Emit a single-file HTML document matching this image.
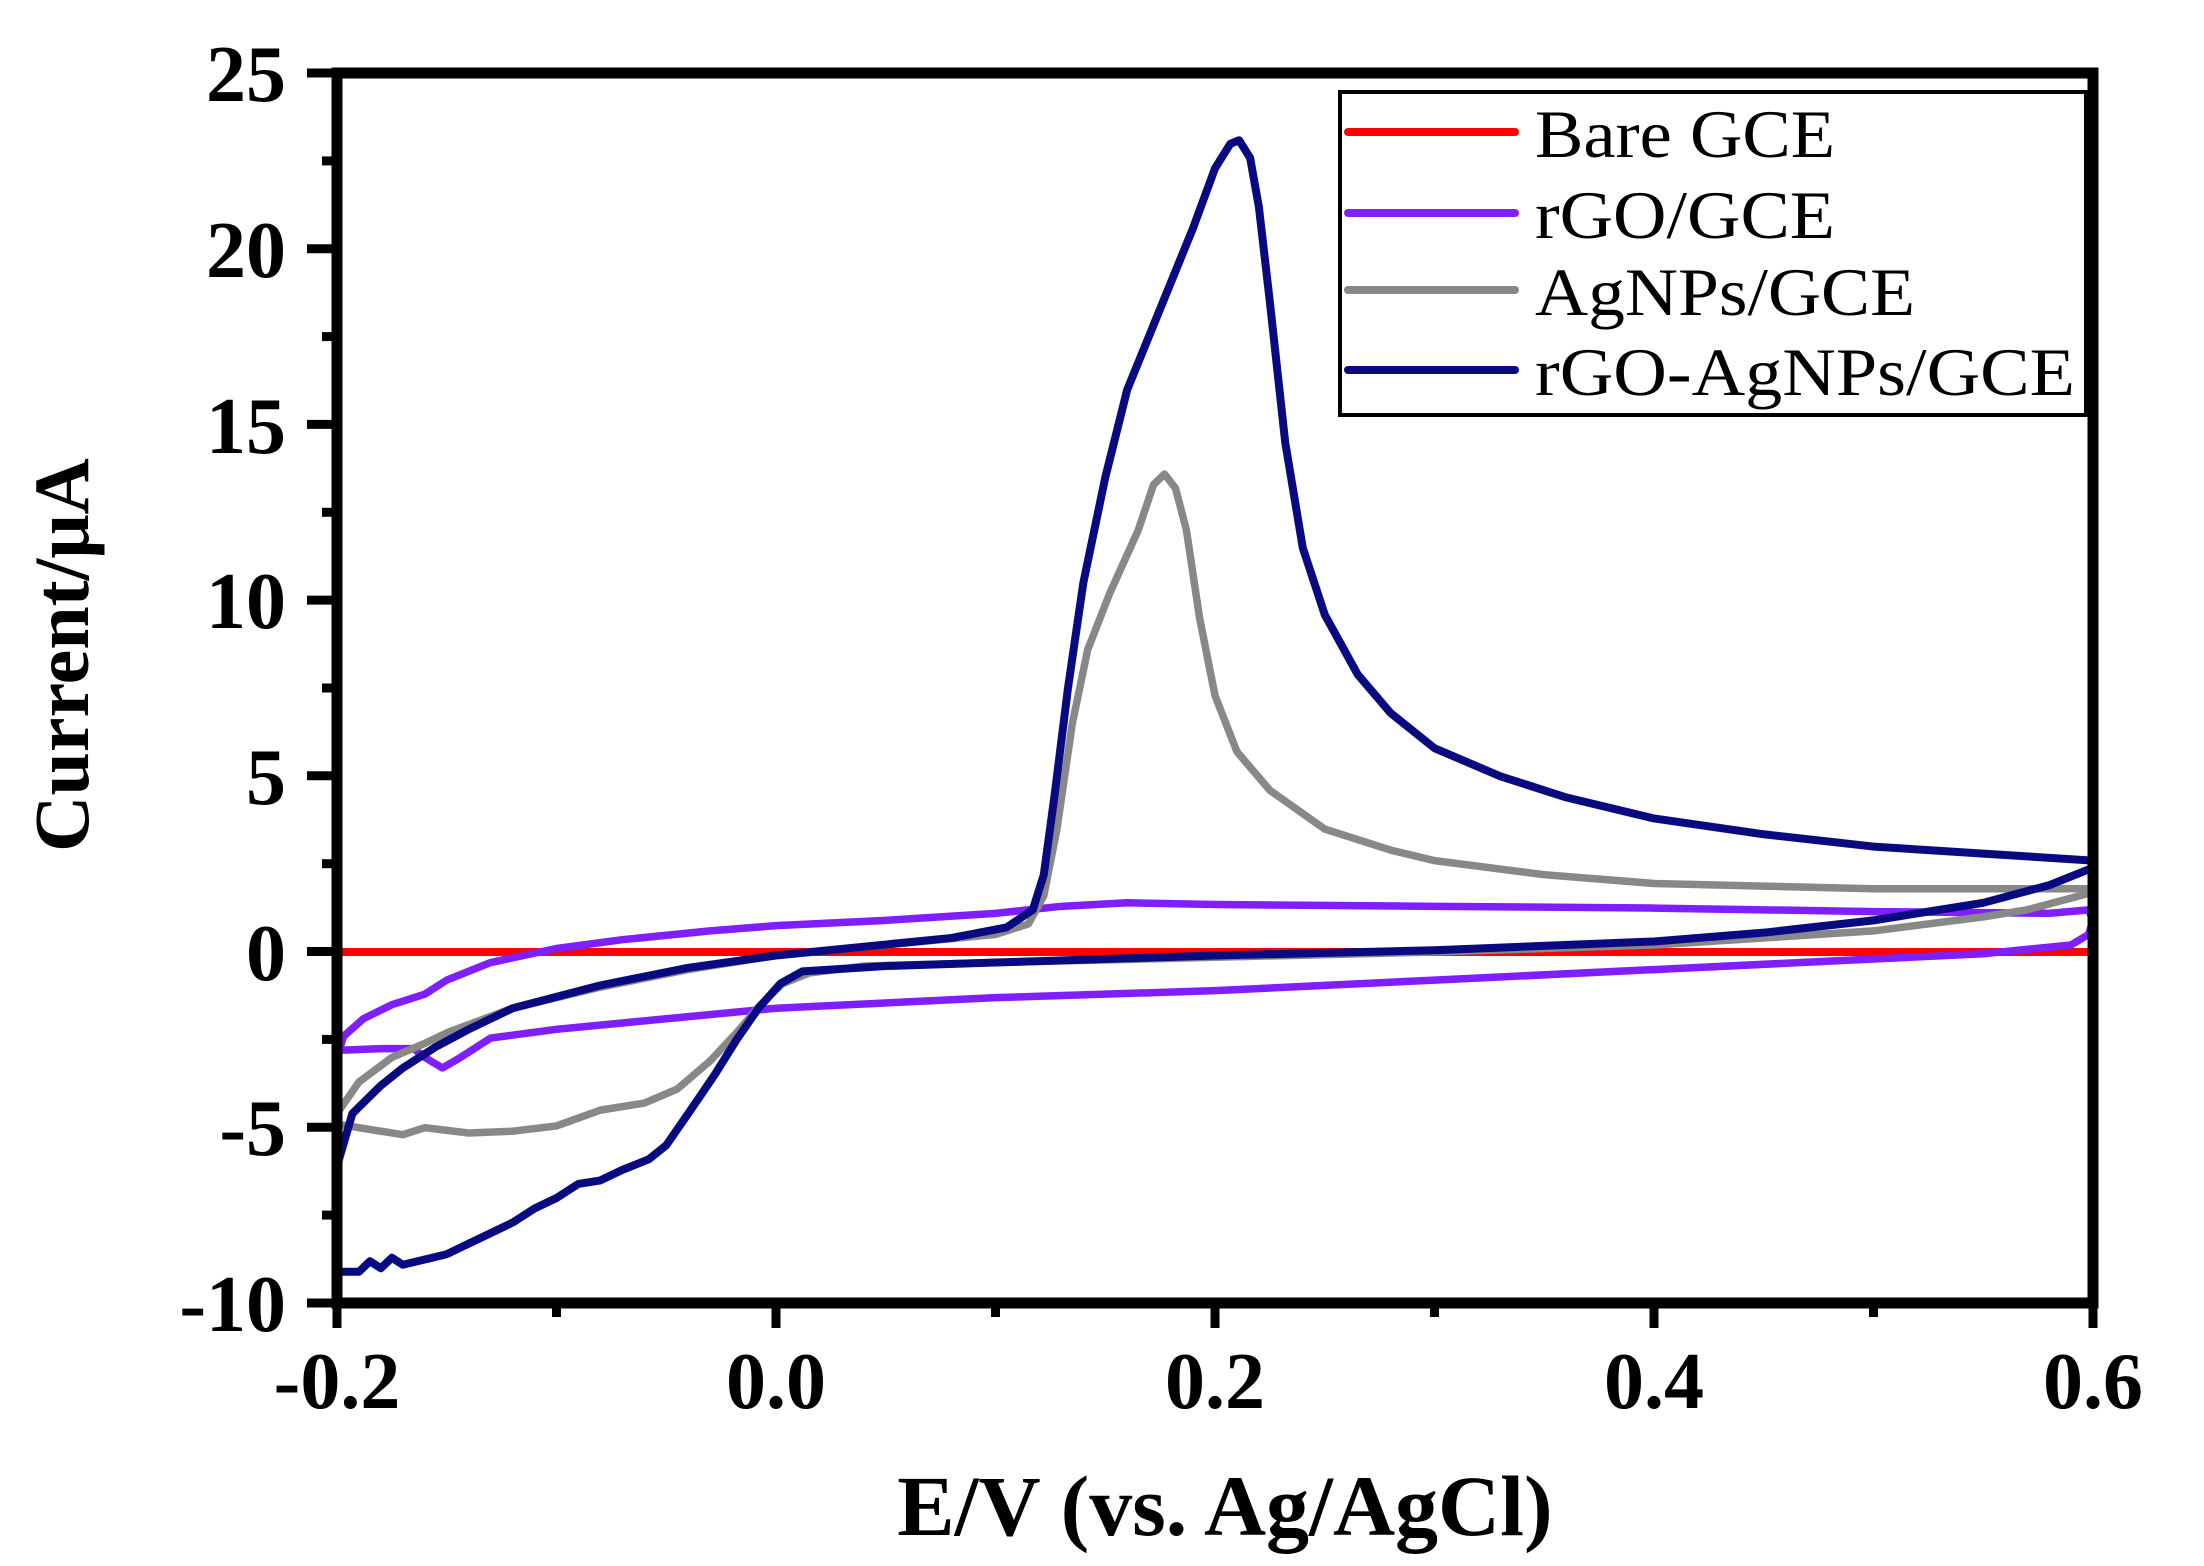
<!DOCTYPE html>
<html><head><meta charset="utf-8"><style>
html,body{margin:0;padding:0;background:#fff;}
svg{display:block;}
text{font-family:"Liberation Serif",serif;}
</style></head><body>
<svg width="2204" height="1566" viewBox="0 0 2204 1566" xmlns="http://www.w3.org/2000/svg">
<rect width="2204" height="1566" fill="#fff"/>
<g transform="translate(775.987,952) scale(2195,-35.14)" fill="none" stroke-linejoin="round" stroke-linecap="round">
  <path vector-effect="non-scaling-stroke" stroke="#ff0000" stroke-width="8" d="M-0.2,0 L0.6,0"/>
  <path vector-effect="non-scaling-stroke" stroke="#7f1fff" stroke-width="7.5" d="M-0.2,-3.0 L-0.197,-2.4 L-0.188,-1.9 L-0.175,-1.5 L-0.16,-1.2 L-0.15,-0.8 L-0.13,-0.3 L-0.1,0.1 L-0.07,0.35 L-0.03,0.6 L0,0.75 L0.05,0.9 L0.1,1.1 L0.13,1.3 L0.16,1.4 L0.2,1.35 L0.3,1.3 L0.4,1.25 L0.5,1.15 L0.58,1.1 L0.598,1.2 L0.6,0.9 L0.598,0.5 L0.59,0.2 L0.55,-0.05 L0.5,-0.2 L0.4,-0.5 L0.3,-0.8 L0.2,-1.1 L0.1,-1.3 L0,-1.6 L-0.05,-1.9 L-0.1,-2.2 L-0.13,-2.45 L-0.145,-3.05 L-0.152,-3.3 L-0.16,-3.0 L-0.165,-2.75 L-0.18,-2.75 L-0.2,-2.8 L-0.2,-3.0"/>
  <path vector-effect="non-scaling-stroke" stroke="#888888" stroke-width="7.5" d="M-0.2,-4.6 L-0.19,-3.7 L-0.175,-3.0 L-0.16,-2.6 L-0.15,-2.3 L-0.12,-1.6 L-0.08,-1.0 L-0.04,-0.5 L0,-0.1 L0.05,0.2 L0.1,0.5 L0.115,0.8 L0.122,1.6 L0.128,3.5 L0.135,6.5 L0.142,8.6 L0.152,10.2 L0.165,12 L0.172,13.3 L0.177,13.6 L0.182,13.2 L0.187,12 L0.193,9.5 L0.2,7.3 L0.21,5.7 L0.225,4.6 L0.25,3.5 L0.28,2.9 L0.3,2.6 L0.35,2.2 L0.4,1.95 L0.5,1.8 L0.6,1.8 L0.6,1.7 L0.57,1.2 L0.55,1.0 L0.5,0.6 L0.4,0.2 L0.3,0.0 L0.2,-0.15 L0.1,-0.3 L0.04,-0.4 L0.015,-0.6 L0.003,-0.9 L-0.007,-1.5 L-0.018,-2.3 L-0.03,-3.1 L-0.045,-3.9 L-0.06,-4.3 L-0.08,-4.5 L-0.1,-4.95 L-0.12,-5.1 L-0.14,-5.15 L-0.16,-5.0 L-0.17,-5.2 L-0.19,-5.0 L-0.2,-4.9 L-0.2,-4.6"/>
  <path vector-effect="non-scaling-stroke" stroke="#0a0a80" stroke-width="8" d="M-0.2,-6.1 L-0.193,-4.6 L-0.18,-3.8 L-0.17,-3.3 L-0.155,-2.7 L-0.14,-2.2 L-0.12,-1.6 L-0.08,-0.95 L-0.04,-0.45 L0,-0.1 L0.04,0.15 L0.08,0.4 L0.105,0.7 L0.117,1.2 L0.122,2.2 L0.127,4.5 L0.133,7.5 L0.14,10.5 L0.15,13.5 L0.16,16 L0.175,18.3 L0.19,20.6 L0.2,22.3 L0.207,23 L0.211,23.1 L0.216,22.6 L0.22,21.2 L0.225,18.5 L0.232,14.5 L0.24,11.5 L0.25,9.6 L0.265,7.9 L0.28,6.8 L0.3,5.8 L0.33,5.0 L0.36,4.4 L0.4,3.8 L0.45,3.35 L0.5,3.0 L0.55,2.8 L0.6,2.6 L0.6,2.4 L0.58,1.9 L0.55,1.4 L0.5,0.9 L0.45,0.55 L0.4,0.3 L0.3,0.05 L0.2,-0.1 L0.1,-0.3 L0.05,-0.4 L0.012,-0.55 L0.002,-0.9 L-0.008,-1.6 L-0.018,-2.5 L-0.028,-3.5 L-0.04,-4.6 L-0.05,-5.5 L-0.058,-5.9 L-0.07,-6.2 L-0.08,-6.5 L-0.09,-6.6 L-0.1,-7.0 L-0.11,-7.3 L-0.12,-7.7 L-0.13,-8.0 L-0.14,-8.3 L-0.15,-8.6 L-0.16,-8.75 L-0.17,-8.9 L-0.175,-8.7 L-0.18,-9.0 L-0.185,-8.8 L-0.19,-9.1 L-0.2,-9.1 L-0.2,-6.1"/>
</g>
<rect x="337" y="73" width="1756" height="1230" fill="none" stroke="#000" stroke-width="11"/>
<g stroke="#000" stroke-width="9">
  <line x1="307" y1="73" x2="337" y2="73"/>
  <line x1="307" y1="248.7" x2="337" y2="248.7"/>
  <line x1="307" y1="424.4" x2="337" y2="424.4"/>
  <line x1="307" y1="600.1" x2="337" y2="600.1"/>
  <line x1="307" y1="775.8" x2="337" y2="775.8"/>
  <line x1="307" y1="951.5" x2="337" y2="951.5"/>
  <line x1="307" y1="1127.2" x2="337" y2="1127.2"/>
  <line x1="307" y1="1303" x2="337" y2="1303"/>
  <line x1="322" y1="160.9" x2="337" y2="160.9"/>
  <line x1="322" y1="336.6" x2="337" y2="336.6"/>
  <line x1="322" y1="512.3" x2="337" y2="512.3"/>
  <line x1="322" y1="688" x2="337" y2="688"/>
  <line x1="322" y1="863.7" x2="337" y2="863.7"/>
  <line x1="322" y1="1039.4" x2="337" y2="1039.4"/>
  <line x1="322" y1="1215.1" x2="337" y2="1215.1"/>
  <line x1="337" y1="1303" x2="337" y2="1328"/>
  <line x1="776" y1="1303" x2="776" y2="1328"/>
  <line x1="1215" y1="1303" x2="1215" y2="1328"/>
  <line x1="1654" y1="1303" x2="1654" y2="1328"/>
  <line x1="2093" y1="1303" x2="2093" y2="1328"/>
  <line x1="556.5" y1="1303" x2="556.5" y2="1317"/>
  <line x1="995.5" y1="1303" x2="995.5" y2="1317"/>
  <line x1="1434.5" y1="1303" x2="1434.5" y2="1317"/>
  <line x1="1873.5" y1="1303" x2="1873.5" y2="1317"/>
</g>
<g font-size="80" font-weight="bold" text-anchor="end" fill="#000">
  <text x="286" y="101">25</text>
  <text x="286" y="277">20</text>
  <text x="286" y="453">15</text>
  <text x="286" y="628">10</text>
  <text x="286" y="804">5</text>
  <text x="286" y="980">0</text>
  <text x="286" y="1155">-5</text>
  <text x="286" y="1331">-10</text>
</g>
<g font-size="80" font-weight="bold" text-anchor="middle" fill="#000">
  <text x="337" y="1408">-0.2</text>
  <text x="776" y="1408">0.0</text>
  <text x="1215" y="1408">0.2</text>
  <text x="1654" y="1408">0.4</text>
  <text x="2093" y="1408">0.6</text>
</g>
<text x="1225" y="1535" font-size="86" font-weight="bold" text-anchor="middle">E/V (vs. Ag/AgCl)</text>
<text transform="translate(88,655) rotate(-90)" font-size="78" font-weight="bold" text-anchor="middle">Current/μA</text>
<rect x="1340" y="92" width="746" height="323" fill="#fff" stroke="#000" stroke-width="4"/>
<g stroke-width="8" stroke-linecap="round">
  <line x1="1348" y1="132" x2="1515" y2="132" stroke="#ff0000"/>
  <line x1="1348" y1="213" x2="1515" y2="213" stroke="#7f1fff"/>
  <line x1="1348" y1="290" x2="1515" y2="290" stroke="#888888"/>
  <line x1="1348" y1="370" x2="1515" y2="370" stroke="#0a0a80"/>
</g>
<g font-size="68" fill="#000">
  <text x="1535" y="157" textLength="300" lengthAdjust="spacingAndGlyphs">Bare GCE</text>
  <text x="1535" y="238" textLength="300" lengthAdjust="spacingAndGlyphs">rGO/GCE</text>
  <text x="1535" y="315" textLength="380" lengthAdjust="spacingAndGlyphs">AgNPs/GCE</text>
  <text x="1535" y="395" textLength="540" lengthAdjust="spacingAndGlyphs">rGO-AgNPs/GCE</text>
</g>
</svg>
</body></html>
